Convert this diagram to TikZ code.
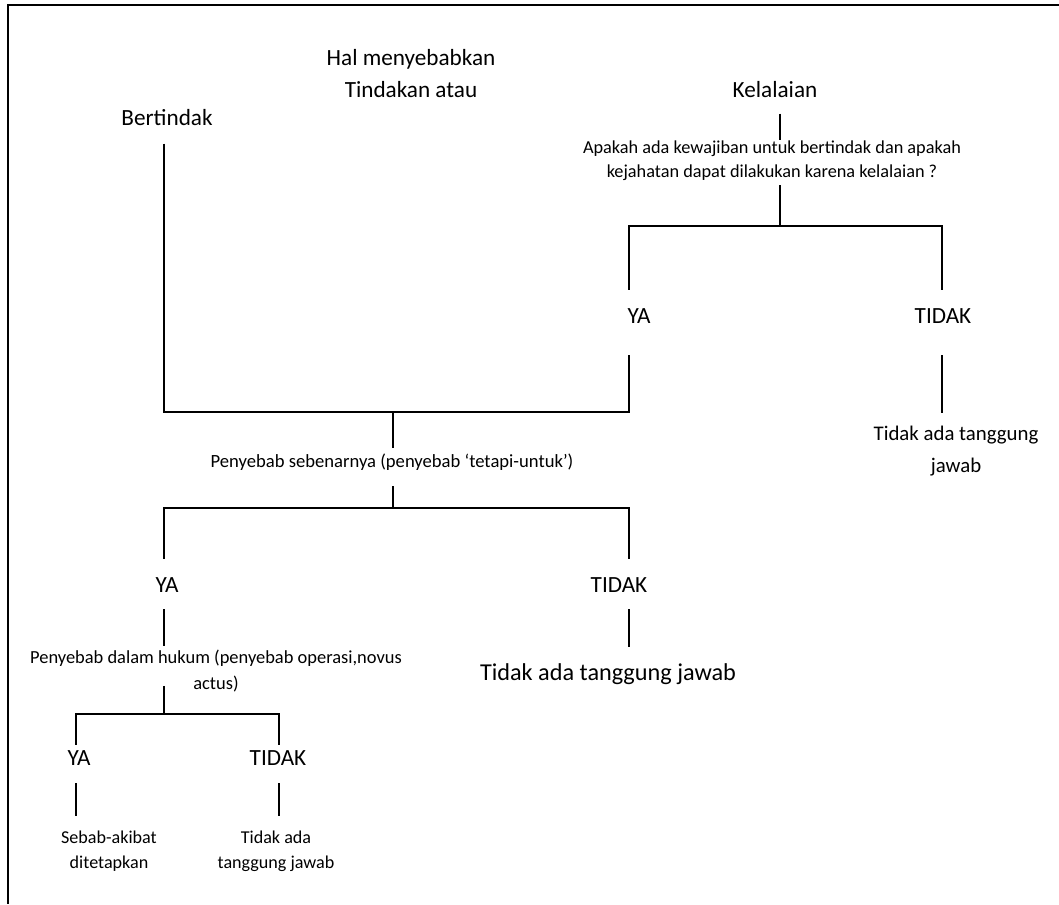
\documentclass[tikz,border=0pt]{standalone}
\usepackage{fontspec}
\setmainfont{Carlito}

\begin{document}
\begin{tikzpicture}[
x=0.02cm, y=-0.02cm,
big/.style={font=\fontsize{13.2}{18.1}\selectfont,
inner sep=0pt,
anchor=base,
align=center},
small/.style={font=\fontsize{10.5}{14.7}\selectfont,
inner sep=0pt,
anchor=base,
align=center},
link/.style={line width=1pt}
]

\useasboundingbox (0,0) rectangle (1059,904);
\draw[line width=1.2pt] (1059,5) -- (8,5) -- (8,904);

\node[big] (hal) at (411,97) {Hal menyebabkan\\Tindakan atau};
\node[big] (bert) at (167,125) {Bertindak};
\node[big] (lalai) at (775,97) {Kelalaian};
\node[small, font=\fontsize{10.4}{13.6}\selectfont] (tanya) at (772,177) {Apakah ada kewajiban untuk bertindak dan apakah\\kejahatan dapat dilakukan karena kelalaian ?};
\node[big] (ya1) at (639,323) {YA};
\node[big] (tidak1) at (943,323) {TIDAK};
\node[big, font=\fontsize{11.85}{18.1}\selectfont] (nihil1) at (956,472) {Tidak ada tanggung\\jawab};
\node[small, font=\fontsize{10.6}{14.7}\selectfont] (sebab) at (392,467) {Penyebab sebenarnya (penyebab ‘tetapi-untuk’)};
\node[big] (ya2) at (167,592) {YA};
\node[big] (tidak2) at (619,592) {TIDAK};
\node[big, font=\fontsize{13.8}{18}\selectfont] (nihil2) at (608,680) {Tidak ada tanggung jawab};
\node[small] (hukum) at (216,689) {Penyebab dalam hukum (penyebab operasi,novus\\actus)};
\node[big] (ya3) at (79,765) {YA};
\node[big] (tidak3) at (278,765) {TIDAK};
\node[small, font=\fontsize{10.3}{14.2}\selectfont] (tetap) at (109,868) {Sebab-akibat\\ditetapkan};
\node[small, font=\fontsize{10.3}{14.2}\selectfont] (nihil3) at (276,868) {Tidak ada\\tanggung jawab};

% titik cabang
\coordinate (c1) at (164,412);
\coordinate (c2) at (629,412);
\coordinate (j1) at (393,412);
\coordinate (j2) at (780,226);
\coordinate (f1l) at (629,226);
\coordinate (f1r) at (942,226);
\coordinate (j3) at (393,508);
\coordinate (f2l) at (164,508);
\coordinate (f2r) at (629,508);
\coordinate (j4) at (164,714);
\coordinate (f3l) at (76,714);
\coordinate (f3r) at (279,714);

\draw[link, shorten <=0.36cm, shorten >=0.64cm] (c1 |- bert.south) -- (c1) -- (c2) -- (c2 |- ya1.south);
\draw[link, shorten <=0.32cm] (j2 |- lalai.south) -- (j2 |- tanya.north);
\draw[link, shorten <=0.1cm] (j2 |- tanya.south) -- (j2);
\draw[link, shorten <=0.36cm, shorten >=0.36cm] (f1l |- ya1.north) -- (f1l) -- (f1r) -- (f1r |- tidak1.north);
\draw[link, shorten <=0.64cm, shorten >=0.24cm] (f1r |- tidak1.south) -- (f1r |- nihil1.north);
\draw[link, shorten >=0.1cm] (j1) -- (j1 |- sebab.north);
\draw[link, shorten <=0.32cm] (j3 |- sebab.south) -- (j3);
\draw[link, shorten <=0.36cm, shorten >=0.36cm] (f2l |- ya2.north) -- (f2l) -- (f2r) -- (f2r |- tidak2.north);
\draw[link, shorten <=0.34cm, shorten >=0.06cm] (f2l |- ya2.south) -- (f2l |- hukum.north);
\draw[link, shorten <=0.34cm, shorten >=0.32cm] (f2r |- tidak2.south) -- (f2r |- nihil2.north);
\draw[link, shorten <=-0.12cm] (j4 |- hukum.south) -- (j4);
\draw[link, shorten <=0.1cm, shorten >=0.1cm] (f3l |- ya3.north) -- (f3l) -- (f3r) -- (f3r |- tidak3.north);
\draw[link, shorten <=0.36cm, shorten >=0.28cm] (f3l |- ya3.south) -- (f3l |- tetap.north);
\draw[link, shorten <=0.36cm, shorten >=0.28cm] (f3r |- tidak3.south) -- (f3r |- nihil3.north);

\end{tikzpicture}
\end{document}
